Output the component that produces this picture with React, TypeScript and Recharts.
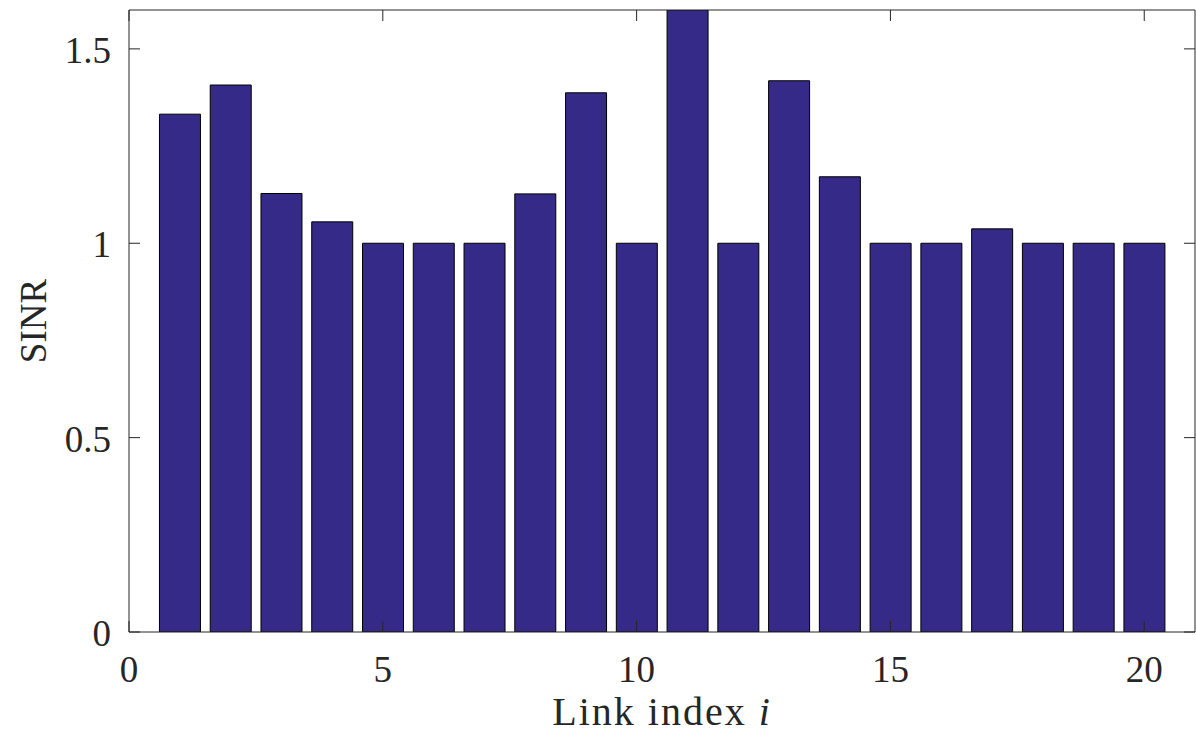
import React from "react"
import { BarChart, Bar, XAxis, YAxis, Label } from "recharts"

const linkIndex = [1, 2, 3, 4, 5, 6, 7, 8, 9, 10, 11, 12, 13, 14, 15, 16, 17, 18, 19, 20]
const sinrValues = [
  1.332, 1.407, 1.128, 1.055, 1.0, 1.0, 1.0, 1.127, 1.387, 1.0,
  1.6, 1.0, 1.418, 1.171, 1.0, 1.0, 1.037, 1.0, 1.0, 1.0,
]
const xTicks = [0, 5, 10, 15, 20]
const yTicks = [0, 0.5, 1, 1.5]

const data = linkIndex.map((link, i) => ({ link, sinr: sinrValues[i] }))

const FONT = "Liberation Serif"
const AXIS_COLOR = "#262626"
const TICK_LEN = 11
const TICK_FONT = 37

// box edges (chart margins + mirror axis sizes)
const CHART_W = 1196
const PLOT_TOP = 10
const PLOT_RIGHT = CHART_W - 1

// bottom tick: inward tick at bottom and top of the box, label below
function BottomTick(props: any) {
  const { x, y, payload } = props
  return (
    <g>
      <line x1={x} y1={y} x2={x} y2={y - TICK_LEN} stroke={AXIS_COLOR} strokeWidth={1} />
      <line x1={x} y1={PLOT_TOP} x2={x} y2={PLOT_TOP + TICK_LEN} stroke={AXIS_COLOR} strokeWidth={1} />
      <text x={x} y={y + 50} textAnchor="middle" style={{ fontFamily: FONT }} fontSize={TICK_FONT} fill={AXIS_COLOR}>
        {payload.value}
      </text>
    </g>
  )
}

// left tick: inward tick at left and right of the box, label to the left
function LeftTick(props: any) {
  const { x, y, payload } = props
  return (
    <g>
      <line x1={x} y1={y} x2={x + TICK_LEN} y2={y} stroke={AXIS_COLOR} strokeWidth={1} />
      <line x1={PLOT_RIGHT} y1={y} x2={PLOT_RIGHT - TICK_LEN} y2={y} stroke={AXIS_COLOR} strokeWidth={1} />
      <text x={x - 18} y={y + 14} textAnchor="end" style={{ fontFamily: FONT }} fontSize={TICK_FONT} fill={AXIS_COLOR}>
        {payload.value}
      </text>
    </g>
  )
}

export default function App() {
  return (
    <div style={{ position: "fixed", left: 0, top: 0, background: "#fff" }}>
      <BarChart
        width={CHART_W}
        height={737}
        data={data}
        margin={{ top: 9, right: 0, left: 0, bottom: 0 }}
      >
        <XAxis
          dataKey="link"
          type="number"
          domain={[0, 21]}
          ticks={xTicks}
          interval={0}
          height={105}
          tickSize={0}
          tickMargin={0}
          tickLine={false}
          tick={<BottomTick />}
          axisLine={{ stroke: AXIS_COLOR, strokeWidth: 1 }}
        >
          <Label
            content={(p: any) => {
              const vb = p.viewBox
              const cx = vb.x + vb.width / 2
              return (
                <text
                  x={cx}
                  y={725}
                  textAnchor="middle"
                  style={{ fontFamily: FONT }}
                  fontSize={40}
                  letterSpacing={2}
                  fill={AXIS_COLOR}
                >
                  Link index <tspan fontStyle="italic">i</tspan>
                </text>
              )
            }}
          />
        </XAxis>
        <XAxis
          xAxisId="top"
          dataKey="link"
          type="number"
          orientation="top"
          domain={[0, 21]}
          height={1}
          tick={false}
          tickLine={false}
          axisLine={{ stroke: AXIS_COLOR, strokeWidth: 1 }}
        />
        <YAxis
          type="number"
          domain={[0, 1.6]}
          ticks={yTicks}
          interval={0}
          width={129}
          tickSize={0}
          tickMargin={0}
          tickLine={false}
          tick={<LeftTick />}
          axisLine={{ stroke: AXIS_COLOR, strokeWidth: 1 }}
          allowDataOverflow
        >
          <Label
            content={(p: any) => {
              const vb = p.viewBox
              const cy = vb.y + vb.height / 2
              return (
                <text
                  x={46}
                  y={cy}
                  transform={`rotate(-90, 46, ${cy})`}
                  textAnchor="middle"
                  style={{ fontFamily: FONT }}
                  fontSize={37}
                  fill={AXIS_COLOR}
                >
                  SINR
                </text>
              )
            }}
          />
        </YAxis>
        <YAxis
          yAxisId="right"
          type="number"
          orientation="right"
          domain={[0, 1.6]}
          width={1}
          tick={false}
          tickLine={false}
          axisLine={{ stroke: AXIS_COLOR, strokeWidth: 1 }}
        />
        <Bar
          dataKey="sinr"
          fill="#352a87"
          stroke="#000000"
          strokeWidth={1}
          isAnimationActive={false}
        />
      </BarChart>
    </div>
  )
}
